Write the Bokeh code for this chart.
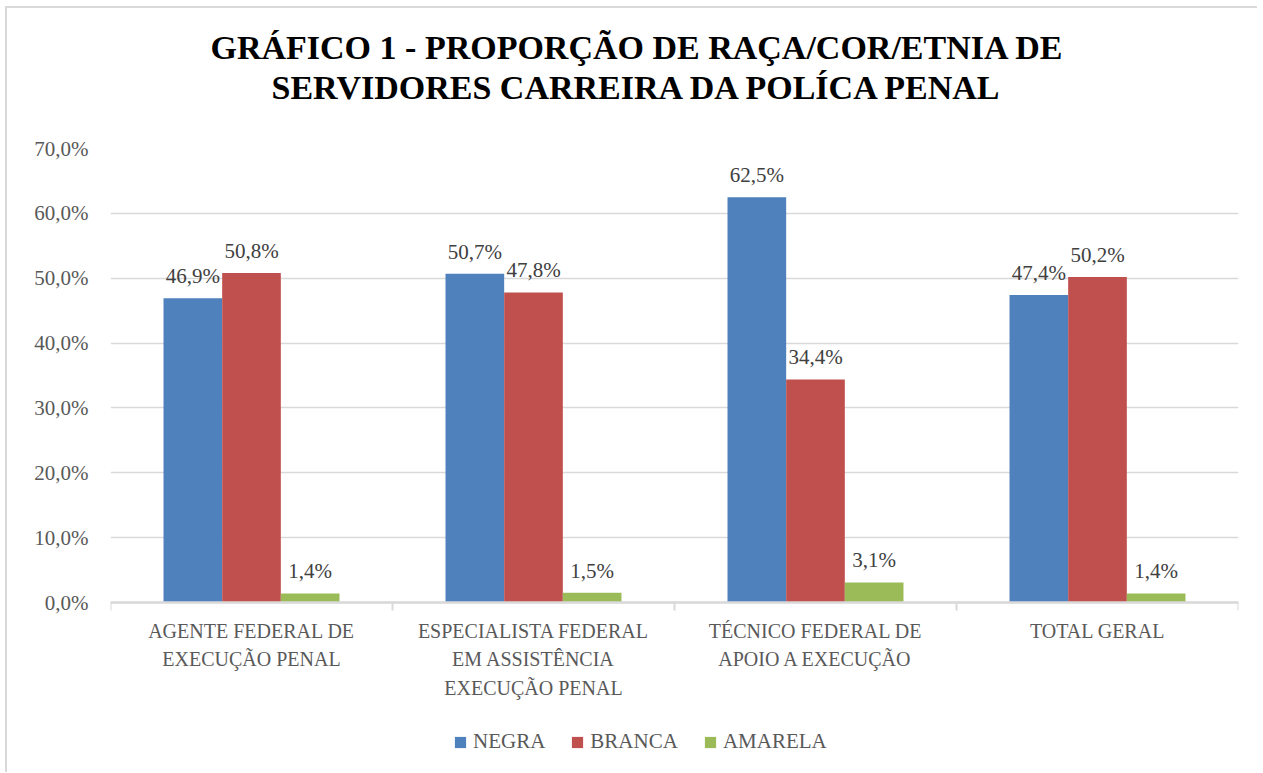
from bokeh.plotting import figure
from bokeh.models import (ColumnDataSource, FixedTicker, LabelSet, Legend, LegendItem, Range1d, Title)
from bokeh.embed import file_html
from bokeh.resources import INLINE

categories = ["AGENTE FEDERAL DE\nEXECUÇÃO PENAL",
              "ESPECIALISTA FEDERAL\nEM ASSISTÊNCIA\nEXECUÇÃO PENAL",
              "TÉCNICO FEDERAL DE\nAPOIO A EXECUÇÃO",
              "TOTAL GERAL"]
series_names = ["NEGRA", "BRANCA", "AMARELA"]
negra = [46.9, 50.7, 62.5, 47.4]
branca = [50.8, 47.8, 34.4, 50.2]
amarela = [1.4, 1.5, 3.1, 1.4]
y_ticks = [0, 10, 20, 30, 40, 50, 60, 70]
y_tick_labels = ["0,0%", "10,0%", "20,0%", "30,0%", "40,0%", "50,0%", "60,0%", "70,0%"]
title_lines = ["GRÁFICO 1 - PROPORÇÃO DE RAÇA/COR/ETNIA DE",
               "SERVIDORES CARREIRA DA POLÍCA PENAL"]

colors = ["#4f81bd", "#c0504d", "#9bbb59"]
FONT = "Liberation Serif"
BAR_W = 0.208
offsets = [-BAR_W, 0.0, BAR_W]

# plot area extended below 0 to hold the category labels and the legend
Y_MAX = 70.0
PLOT_H = 454          # pixels from 0% to 70%
FRAME_H = 624
Y_MIN = -(FRAME_H - PLOT_H) * Y_MAX / PLOT_H

p = figure(frame_width=1128, frame_height=FRAME_H, x_range=Range1d(0, 4),
           y_range=Range1d(Y_MIN, Y_MAX),
           output_backend="svg", toolbar_location=None, title=None,
           min_border_left=103, min_border_right=19, min_border_top=140, min_border_bottom=0)
p.styles = {"margin-left": "5px", "margin-top": "6px",
            "border-left": "2px solid #d9d9d9", "border-top": "2px solid #d9d9d9"}
p.outline_line_color = None
p.background_fill_color = "white"
p.border_fill_color = "white"

def make_title(text, offset, standoff, size="34px"):
    return Title(text=text, align="left", offset=offset, standoff=standoff,
                 text_font=FONT, text_font_style="bold", text_font_size=size,
                 text_color="black")

# stacked outward from the plot frame: spacer, line 2, line 1
p.add_layout(make_title(" ", 0, 19, "20px"), "above")
p.add_layout(make_title(title_lines[1], 161, 0), "above")
p.add_layout(make_title(title_lines[0], 100, 2), "above")

renderers = []
for k, vals in enumerate([negra, branca, amarela]):
    xs = [i + 0.5 + offsets[k] for i in range(len(categories))]
    labels = [f"{v:.1f}".replace(".", ",") + "%" for v in vals]
    src = ColumnDataSource(dict(x=xs, top=vals, label=labels))
    r = p.vbar(x="x", top="top", width=BAR_W, bottom=0, source=src,
               fill_color=colors[k], line_color=None)
    renderers.append(r)
    ls = LabelSet(x="x", y="top", text="label", source=src, text_align="center",
                  text_baseline="alphabetic", y_offset=15, text_font=FONT,
                  text_font_size="21px", text_color="#404040")
    p.add_layout(ls)

# y axis
p.yaxis.ticker = FixedTicker(ticks=y_ticks)
p.yaxis.major_label_overrides = {t: l for t, l in zip(y_ticks, y_tick_labels)}
p.yaxis.axis_line_color = None
p.yaxis.major_tick_line_color = None
p.yaxis.minor_tick_line_color = None
p.yaxis.major_tick_out = 0
p.yaxis.major_tick_in = 0
p.yaxis.major_label_standoff = 22
p.yaxis.major_label_text_font = FONT
p.yaxis.major_label_text_font_size = "21px"
p.yaxis.major_label_text_color = "#595959"

p.ygrid.ticker = FixedTicker(ticks=y_ticks)
p.ygrid.grid_line_color = "#d9d9d9"
p.ygrid.grid_line_width = 1.5
p.xgrid.grid_line_color = None

# x axis, drawn at the 0% line
centers = [i + 0.5 for i in range(len(categories))]
p.xaxis.fixed_location = 0
p.xaxis.ticker = FixedTicker(ticks=centers, minor_ticks=list(range(len(categories) + 1)))
p.xaxis.major_label_overrides = {c: l for c, l in zip(centers, categories)}
p.xaxis.major_tick_line_color = None
p.xaxis.major_tick_out = 8
p.xaxis.major_tick_in = 0
p.xaxis.minor_tick_line_color = "#d9d9d9"
p.xaxis.minor_tick_line_width = 2
p.xaxis.minor_tick_out = 8
p.xaxis.minor_tick_in = 0
p.xaxis.axis_line_color = "#d9d9d9"
p.xaxis.axis_line_width = 2.5
p.xaxis.major_label_standoff = 9
p.xaxis.major_label_text_font = FONT
p.xaxis.major_label_text_font_size = "20px"
p.xaxis.major_label_text_line_height = 1.3
p.xaxis.major_label_text_color = "#595959"

legend = Legend(items=[LegendItem(label=n, renderers=[r]) for n, r in zip(series_names, renderers)],
                orientation="horizontal", location=(343, 18),
                glyph_width=14, glyph_height=14, label_standoff=6, spacing=25,
                padding=0, margin=0, border_line_color=None, background_fill_alpha=0,
                label_text_font=FONT, label_text_font_size="21px", label_text_color="#595959")
p.add_layout(legend, "center")

open("out.html", "w").write(file_html(p, INLINE))
